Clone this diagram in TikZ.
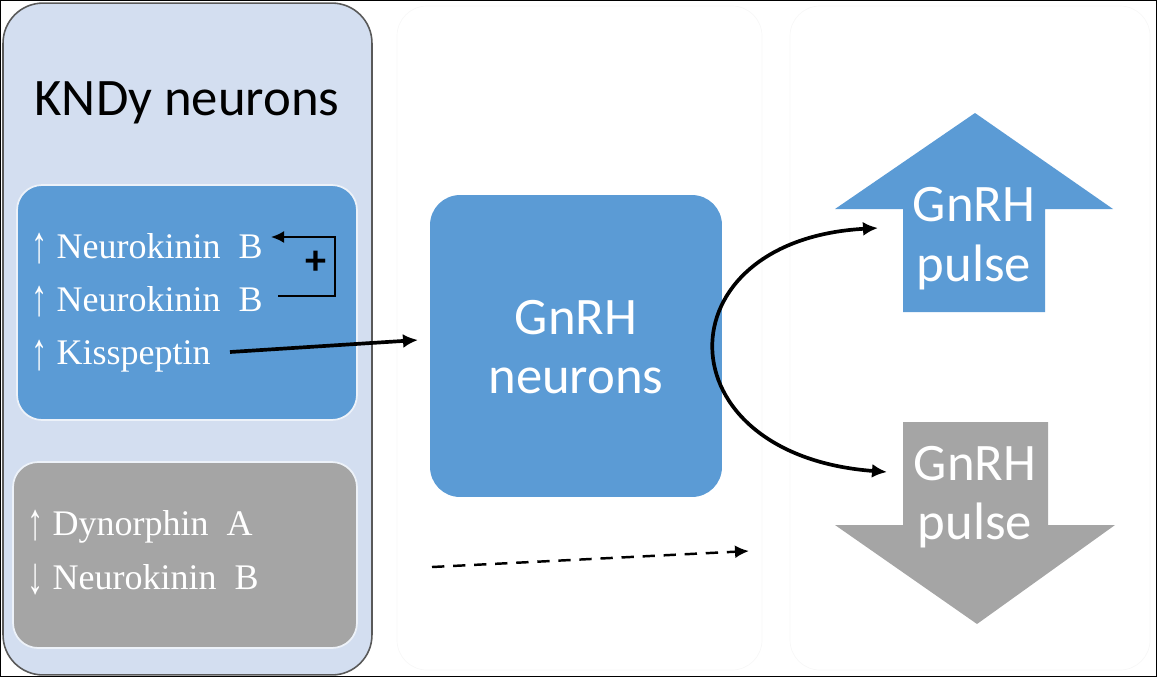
\documentclass[tikz,border=0pt]{standalone}
\usepackage{fontspec}
\setmainfont{Liberation Serif}
\setsansfont{Carlito}
\usetikzlibrary{arrows.meta}
\definecolor{kndybg}{RGB}{211,222,240}
\definecolor{boxblue}{RGB}{91,155,213}
\definecolor{boxgray}{RGB}{165,165,165}
\newcommand{\uparr}{\raisebox{-0.12em}{\scalebox{0.9}[1.45]{↑}}}
\newcommand{\downarr}{\raisebox{-0.12em}{\scalebox{0.9}[1.45]{↓}}}
\tikzset{
    hormone/.style={anchor=west,text=white,font=\fontsize{20.5}{24}\selectfont,inner sep=0pt},
    pulsetxt/.style={align=center,text=white,font=\sffamily\fontsize{30}{34}\selectfont,inner sep=0pt},
    fat/.style={line width=2.1pt,-{Latex[length=3mm,width=2.8mm]}},
}
\begin{document}
\begin{tikzpicture}[x=0.02cm,y=-0.02cm]
                \useasboundingbox (0,0) rectangle (1158,677);
                \draw[line width=0.6pt] (0.5,0.5) rectangle (1156.5,676.5);
                %% faint panels
                \draw[black!3,rounded corners=0.6cm] (397,6) rectangle (762,670);
                \draw[black!3,rounded corners=0.6cm] (790,6) rectangle (1150,670);
                %% KNDy panel
                \node[anchor=center,draw=black!65,line width=0.9pt,fill=kndybg,rounded corners=0.8cm,minimum width=7.38cm,minimum height=13.44cm] (KNDy) at (187.5,339) {};
                \node[anchor=center,font=\sffamily\fontsize{30}{34}\selectfont] (title) at (187,103) {KNDy neurons};
                \node[anchor=center,draw=white!60!kndybg,line width=1pt,fill=boxblue,rounded corners=0.5cm,minimum width=6.8cm,minimum height=4.7cm] (up) at (187,302.5) {};
                \node[anchor=center,draw=white!60!kndybg,line width=1pt,fill=boxgray,rounded corners=0.5cm,minimum width=6.88cm,minimum height=3.72cm] (down) at (185,555) {};
                %% hormones
                \node[hormone] (nkbA) at (31,249) {\uparr\ Neurokinin\ \ B};
                \node[hormone] (nkbB) at (31,302) {\uparr\ Neurokinin\ \ B};
                \node[hormone] (kiss) at (31,356) {\uparr\ Kisspeptin};
                \node[hormone] (dyn) at (27,527) {\uparr\ Dynorphin\ \ A};
                \node[hormone] (nkbC) at (27,580) {\downarr\ Neurokinin\ \ B};
                %% feedback loop
                \coordinate (fbOut) at (278,296);
                \coordinate (fbTurn) at (335,266);
                \coordinate (fbIn) at (271,237);
                \draw[line width=1.2pt,-{Latex[length=2.6mm,width=2.4mm]}] (fbOut) -| (fbTurn) |- (fbIn);
                \node[anchor=center,font=\sffamily\bfseries\fontsize{24}{26}\selectfont,inner sep=0pt] (plus) at (316,263) {+};
                %% GnRH neurons
                \node[anchor=center,fill=boxblue,rounded corners=0.6cm,minimum width=5.84cm,minimum height=6.04cm] (gnrh) at (576,346) {};
                \node[pulsetxt] (gnrhtxt) at (576,347) {GnRH\\neurons};
                %% pulse arrows
                \fill[boxblue] (975,113) -- (1113,209) -- (1045,209) -- (1045,312) -- (903,312) -- (903,209) -- (835,209) -- cycle;
                \fill[boxgray] (903,422) -- (1048,422) -- (1048,525) -- (1115,525) -- (977,624) -- (835,525) -- (903,525) -- cycle;
                \node[pulsetxt] (pulseUp) at (974,239) {GnRH\\pulse};
                \node[pulsetxt] (pulseDown) at (975,497) {GnRH\\pulse};
                %% connectors
                \coordinate (kissEnd) at (230,352);
                \coordinate (gnrhIn) at (418,340);
                \draw[fat] (kissEnd) -- (gnrhIn);
                \coordinate (toUp) at (878,228);
                \coordinate (toDown) at (887,472);
                \draw[fat,{Latex[length=3mm,width=2.8mm]}-{Latex[length=3mm,width=2.8mm]}] (toUp) .. controls (660,240) and (660,455) .. (toDown);
                \coordinate (dashStart) at (432,567);
                \coordinate (dashEnd) at (749,551);
                \draw[line width=1.4pt,dash pattern=on 7pt off 5pt,-{Latex[length=2.8mm,width=2.6mm]}] (dashStart) -- (dashEnd);
            \end{tikzpicture}
\end{document}
